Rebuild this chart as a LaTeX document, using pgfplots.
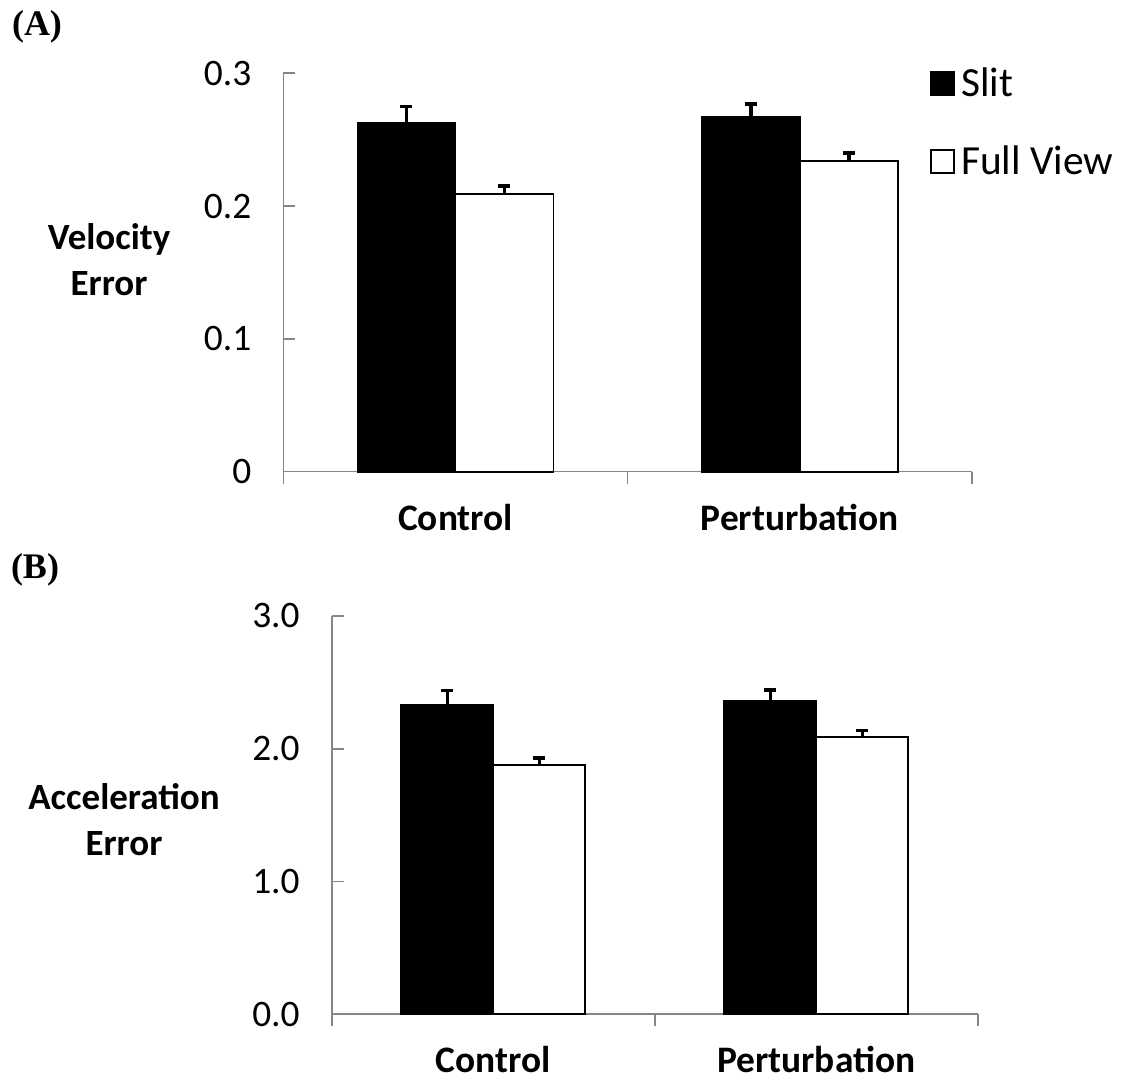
\documentclass[border=0pt]{standalone}
\usepackage{pgfplots}
\pgfplotsset{compat=1.18}
\usepackage{fontspec}
\setmainfont{Carlito}
\newfontfamily\timesfont{Liberation Serif}
\definecolor{axgray}{RGB}{134,134,134}
\pgfplotsset{
  mybars/.style={
    scale only axis, anchor=south west,
    axis lines*=left,
    axis line style={axgray, line width=0.8pt},
    tick align=inside,
    major tick length=6pt, minor tick length=6pt,
    every major tick/.append style={axgray, line width=0.8pt},
    every minor tick/.append style={axgray, line width=0.8pt},
    xmin=-0.5, xmax=1.5,
    xtick={0,1},
    xticklabels={\textbf{Control},\textbf{Perturbation}},
    every major x tick/.append style={draw=none},
    minor xtick={-0.5,0.5,1.5},
    /pgf/number format/assume math mode=true,
    tick label style={font=\fontsize{18.7}{22}\selectfont, black},
    xticklabel style={inner sep=1pt, yshift=-9pt},
    yticklabel style={anchor=east, xshift=-12.5pt},
    ylabel style={rotate=-90, align=center, anchor=center, font=\fontsize{18.5}{23}\selectfont\bfseries},
    clip=false,
    error bars/y dir=plus, error bars/y explicit,
    error bars/error mark=|,
    error bars/error bar style={black, line width=1.7pt},
    error bars/error mark options={black, line width=1.7pt, mark size=3pt, rotate=0},
  },
}
\begin{document}
\begin{tikzpicture}
\useasboundingbox (0,0) rectangle (564pt,540pt);
\node[font=\timesfont\fontsize{18}{21}\selectfont\bfseries] at (18.5pt,526.5pt) {(A)};
\node[font=\timesfont\fontsize{18}{21}\selectfont\bfseries] at (17.5pt,255pt) {(B)};
\begin{axis}[mybars,
  at={(141.65pt,304.15pt)}, width=344.35pt, height=199.2pt,
  ybar=0pt, bar width=49pt,
  ymin=0, ymax=0.3,
  ytick={0,0.1,0.2,0.3}, yticklabels={0,0.1,0.2,0.3},
  ylabel={Velocity\\Error},
  ylabel style={at={(axis description cs:-0.253,0.531)}},
  legend style={at={(axis description cs:0.939,1.03)}, anchor=north west, draw=none, fill=none,
    font=\fontsize{20.7}{24}\selectfont, row sep=17pt, inner sep=0pt,
    nodes={inner sep=3pt}},
  legend cell align=left,
  legend image code/.code={\draw[#1, line width=0.9pt] (0pt,-5.75pt) rectangle (11.5pt,5.75pt);},
]
\addplot[fill=black, draw=black, line width=0.9pt]
  coordinates {(0,0.263) +- (0,0.012) (1,0.267) +- (0,0.010)};
\addlegendentry{Slit}
\addplot[fill=white, draw=black, line width=0.9pt]
  coordinates {(0,0.209) +- (0,0.006) (1,0.234) +- (0,0.006)};
\addlegendentry{Full View}
\end{axis}
\begin{axis}[mybars,
  at={(165.85pt,32.85pt)}, width=323pt, height=199.15pt,
  ybar=0pt, bar width=46pt,
  ymin=0, ymax=3,
  ytick={0,1,2,3}, yticklabels={0.0,1.0,2.0,3.0},
  ylabel={Acceleration\\Error},
  ylabel style={at={(axis description cs:-0.3215,0.488)}},
]
\addplot[fill=black, draw=black, line width=0.9pt]
  coordinates {(0,2.334) +- (0,0.105) (1,2.357) +- (0,0.085)};
\addplot[fill=white, draw=black, line width=0.9pt]
  coordinates {(0,1.880) +- (0,0.050) (1,2.088) +- (0,0.048)};
\end{axis}
\end{tikzpicture}
\end{document}
